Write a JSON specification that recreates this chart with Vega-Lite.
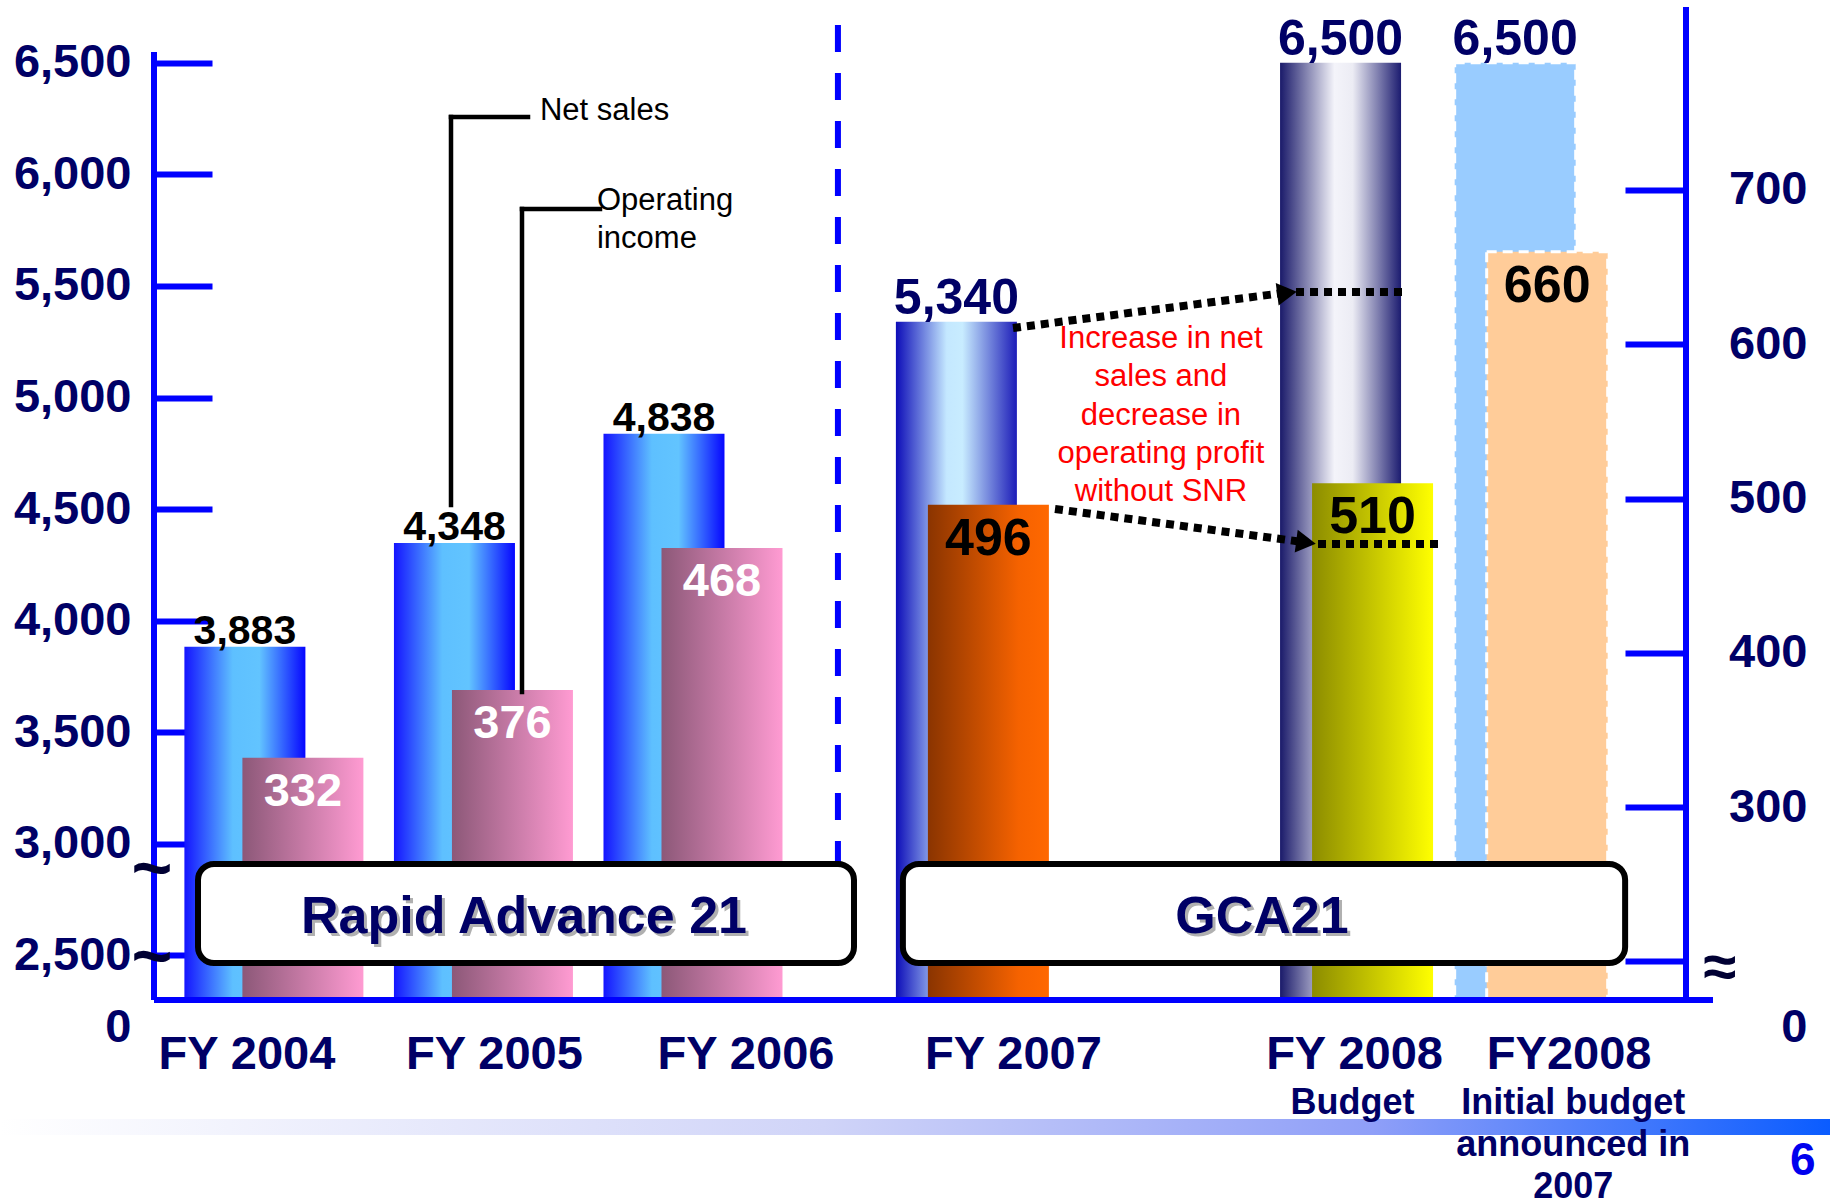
{
"$schema":"https://vega.github.io/schema/vega-lite/v6.json",
"width":1532,"height":1033,
"autosize":{"type":"none"},
"padding":{"left":154,"top":7,"right":144,"bottom":159},
"background":"white",
"config":{"view":{"stroke":null},"text":{"font":"Liberation Sans"},"axis":{"labelFont":"Liberation Sans"}},
"datasets":{"fin":[
{"period":"FY 2004","plan":"Rapid Advance 21","net_sales":3883,"operating_income":332,"note":""},
{"period":"FY 2005","plan":"Rapid Advance 21","net_sales":4348,"operating_income":376,"note":""},
{"period":"FY 2006","plan":"Rapid Advance 21","net_sales":4838,"operating_income":468,"note":""},
{"period":"FY 2007","plan":"GCA21","net_sales":5340,"operating_income":496,"note":""},
{"period":"FY 2008","plan":"GCA21","net_sales":6500,"operating_income":510,"note":"Budget"},
{"period":"FY2008","plan":"GCA21","net_sales":6500,"operating_income":660,"note":"Initial budget\nannounced in\n2007"}
]},
"resolve":{"scale":{"y":"independent"},"axis":{"y":"independent"}},
"layer":[
{"data":{"name":"fin"},"layer":[
 {"mark":{"type":"bar","width":121,"xOffset":{"expr":"datum.plan == 'GCA21' ? -16 : -29"},"strokeDash":[10,6],"strokeWidth":3},
  "encoding":{
   "x":{"field":"period","type":"nominal","scale":{"type":"band","domain":["g0","g1","FY 2004","g3","g4","g5","g6","g7","FY 2005","g9","g10","g11","g12","g13","FY 2006","g15","g16","g17","g18","g19","g20","g21","FY 2007","g23","g24","g25","g26","g27","g28","g29","g30","g31","g32","FY 2008","g34","g35","g36","g37","FY2008","g39","g40","g41"],"paddingInner":0,"paddingOuter":0.933},"axis":null},
   "y":{"field":"net_sales","type":"quantitative","scale":{"domain":[2120.7,6750],"zero":false,"nice":false},
    "axis":{"orient":"left","values":[2174.5,2500,3000,3500,4000,4500,5000,5500,6000,6500],"labelExpr":"datum.value < 2300 ? '0' : format(datum.value, ',')","domain":false,"grid":false,"title":null,"tickSize":-58,"tickWidth":6,"tickColor":{"condition":{"test":"datum.value < 2300","value":"rgba(0,0,0,0)"},"value":"#0000ff"},"labelPadding":81,"labelFontSize":47,"labelFontWeight":"bold","labelColor":"#000066","labelBaseline":"middle","labelAlign":"right","labelOverlap":false,"labelLimit":400}},
   "y2":{"datum":2300},
   "color":{"condition":[
     {"test":"datum.period == 'FY 2007'","value":{"gradient":"linear","x1":0,"y1":0,"x2":1,"y2":0,"stops":[{"offset":0,"color":"#0c0cb8"},{"offset":0.42,"color":"#c4e8ff"},{"offset":0.55,"color":"#c8ecff"},{"offset":1,"color":"#1c1cb8"}]}},
     {"test":"datum.period == 'FY 2008'","value":{"gradient":"linear","x1":0,"y1":0,"x2":1,"y2":0,"stops":[{"offset":0,"color":"#1a1a6a"},{"offset":0.45,"color":"#f4f4fa"},{"offset":0.6,"color":"#ececf4"},{"offset":1,"color":"#1c1c70"}]}},
     {"test":"datum.period == 'FY2008'","value":"#99ccff"}],
    "value":{"gradient":"linear","x1":0,"y1":0,"x2":1,"y2":0,"stops":[{"offset":0,"color":"#1414ff"},{"offset":0.4,"color":"#5ec0ff"},{"offset":0.62,"color":"#62c4ff"},{"offset":1,"color":"#0606ff"}]}},
   "stroke":{"condition":{"test":"datum.period == 'FY2008'","value":"white"},"value":null}
  }},
 {"mark":{"type":"text","baseline":"alphabetic","fontWeight":"bold","dx":{"expr":"datum.plan == 'GCA21' ? -16 : -29"},"dy":{"expr":"datum.plan == 'GCA21' ? -8 : -3"}},
  "encoding":{
   "x":{"field":"period","type":"nominal","scale":{"type":"band","domain":["g0","g1","FY 2004","g3","g4","g5","g6","g7","FY 2005","g9","g10","g11","g12","g13","FY 2006","g15","g16","g17","g18","g19","g20","g21","FY 2007","g23","g24","g25","g26","g27","g28","g29","g30","g31","g32","FY 2008","g34","g35","g36","g37","FY2008","g39","g40","g41"],"paddingInner":0,"paddingOuter":0.933}},
   "y":{"field":"net_sales","type":"quantitative","scale":{"domain":[2120.7,6750],"zero":false,"nice":false}},
   "text":{"field":"net_sales","type":"quantitative","format":","},
   "size":{"condition":{"test":"datum.plan == 'GCA21'","value":50},"value":41},
   "color":{"condition":{"test":"datum.plan == 'GCA21'","value":"#000066"},"value":"#000000"}
  }}
]},
{"data":{"name":"fin"},"layer":[
 {"mark":{"type":"bar","width":121,"xOffset":{"expr":"datum.plan == 'GCA21' ? 16 : 29"},"strokeDash":[10,6],"strokeWidth":3},
  "encoding":{
   "x":{"field":"period","type":"nominal","scale":{"type":"band","domain":["g0","g1","FY 2004","g3","g4","g5","g6","g7","FY 2005","g9","g10","g11","g12","g13","FY 2006","g15","g16","g17","g18","g19","g20","g21","FY 2007","g23","g24","g25","g26","g27","g28","g29","g30","g31","g32","FY 2008","g34","g35","g36","g37","FY2008","g39","g40","g41"],"paddingInner":0,"paddingOuter":0.933}},
   "y":{"field":"operating_income","type":"quantitative","scale":{"domain":[149.1,818.6],"zero":false,"nice":false},
    "axis":{"orient":"right","values":[156.9,200,300,400,500,600,700],"labelExpr":"datum.value < 175 ? '0' : (datum.value == 200 ? '' : format(datum.value, 'd'))","domain":false,"grid":false,"title":null,"tickSize":-61,"tickWidth":6,"tickColor":{"condition":{"test":"datum.value < 175","value":"rgba(0,0,0,0)"},"value":"#0000ff"},"labelPadding":182,"labelAlign":"right","labelFontSize":47,"labelFontWeight":"bold","labelColor":"#000066","labelBaseline":"middle","labelOverlap":false,"labelLimit":400}},
   "y2":{"datum":175},
   "color":{"condition":[
     {"test":"datum.period == 'FY 2007'","value":{"gradient":"linear","x1":0,"y1":0,"x2":1,"y2":0,"stops":[{"offset":0,"color":"#8a3400"},{"offset":0.75,"color":"#f56200"},{"offset":1,"color":"#ff6800"}]}},
     {"test":"datum.period == 'FY 2008'","value":{"gradient":"linear","x1":0,"y1":0,"x2":1,"y2":0,"stops":[{"offset":0,"color":"#8c8c00"},{"offset":1,"color":"#ffff00"}]}},
     {"test":"datum.period == 'FY2008'","value":"#ffcc99"}],
    "value":{"gradient":"linear","x1":0,"y1":0,"x2":1,"y2":0,"stops":[{"offset":0,"color":"#8c5878"},{"offset":1,"color":"#ff9bd2"}]}},
   "stroke":{"condition":{"test":"datum.period == 'FY2008'","value":"white"},"value":null}
  }},
 {"mark":{"type":"text","baseline":"middle","fontWeight":"bold","dx":{"expr":"datum.plan == 'GCA21' ? 16 : 29"},"dy":34},
  "encoding":{
   "x":{"field":"period","type":"nominal","scale":{"type":"band","domain":["g0","g1","FY 2004","g3","g4","g5","g6","g7","FY 2005","g9","g10","g11","g12","g13","FY 2006","g15","g16","g17","g18","g19","g20","g21","FY 2007","g23","g24","g25","g26","g27","g28","g29","g30","g31","g32","FY 2008","g34","g35","g36","g37","FY2008","g39","g40","g41"],"paddingInner":0,"paddingOuter":0.933}},
   "y":{"field":"operating_income","type":"quantitative","scale":{"domain":[149.1,818.6],"zero":false,"nice":false}},
   "text":{"field":"operating_income","type":"quantitative"},
   "size":{"condition":{"test":"datum.plan == 'GCA21'","value":52},"value":47},
   "color":{"condition":{"test":"datum.plan == 'GCA21'","value":"#000000"},"value":"#ffffff"}
  }}
]},
{"data":{"values":[{}]},"layer":[
 {"mark":{"type":"rect","fill":{"gradient":"linear","x1":0,"y1":0,"x2":1,"y2":0,"stops":[{"offset":0,"color":"#ffffff"},{"offset":0.45,"color":"#d0d4f8"},{"offset":0.75,"color":"#8f9ff8"},{"offset":1,"color":"#0a5cff"}]}},
  "encoding":{"x":{"datum":"g0","bandPosition":-5.34,"type":"nominal","scale":{"type":"band","domain":["g0","g1","FY 2004","g3","g4","g5","g6","g7","FY 2005","g9","g10","g11","g12","g13","FY 2006","g15","g16","g17","g18","g19","g20","g21","FY 2007","g23","g24","g25","g26","g27","g28","g29","g30","g31","g32","FY 2008","g34","g35","g36","g37","FY2008","g39","g40","g41"],"paddingInner":0,"paddingOuter":0.933}},
   "x2":{"datum":"g41","bandPosition":6.06},
   "y":{"datum":1766.6,"type":"quantitative","scale":{"domain":[2120.7,6750],"zero":false,"nice":false},"axis":null},
   "y2":{"datum":1694.9}}},
 {"mark":{"type":"rule","color":"#0000ff","strokeWidth":6},
  "encoding":{"x":{"datum":"g0","bandPosition":-0.933,"type":"nominal","scale":{"type":"band","domain":["g0","g1","FY 2004","g3","g4","g5","g6","g7","FY 2005","g9","g10","g11","g12","g13","FY 2006","g15","g16","g17","g18","g19","g20","g21","FY 2007","g23","g24","g25","g26","g27","g28","g29","g30","g31","g32","FY 2008","g34","g35","g36","g37","FY2008","g39","g40","g41"],"paddingInner":0,"paddingOuter":0.933}},
   "y":{"datum":6548.3,"type":"quantitative","scale":{"domain":[2120.7,6750],"zero":false,"nice":false},"axis":null},
   "y2":{"datum":2300}}},
 {"mark":{"type":"rule","color":"#0000ff","strokeWidth":6},
  "encoding":{"x":{"datum":"g41","bandPosition":1.933,"type":"nominal","scale":{"type":"band","domain":["g0","g1","FY 2004","g3","g4","g5","g6","g7","FY 2005","g9","g10","g11","g12","g13","FY 2006","g15","g16","g17","g18","g19","g20","g21","FY 2007","g23","g24","g25","g26","g27","g28","g29","g30","g31","g32","FY 2008","g34","g35","g36","g37","FY2008","g39","g40","g41"],"paddingInner":0,"paddingOuter":0.933}},
   "y":{"datum":6750,"type":"quantitative","scale":{"domain":[2120.7,6750],"zero":false,"nice":false},"axis":null},
   "y2":{"datum":2300}}},
 {"mark":{"type":"rule","color":"#0000ff","strokeWidth":6},
  "encoding":{"x":{"datum":"g0","bandPosition":-0.933,"type":"nominal","scale":{"type":"band","domain":["g0","g1","FY 2004","g3","g4","g5","g6","g7","FY 2005","g9","g10","g11","g12","g13","FY 2006","g15","g16","g17","g18","g19","g20","g21","FY 2007","g23","g24","g25","g26","g27","g28","g29","g30","g31","g32","FY 2008","g34","g35","g36","g37","FY2008","g39","g40","g41"],"paddingInner":0,"paddingOuter":0.933}},
   "x2":{"datum":"g41","bandPosition":2.706},
   "y":{"datum":2300,"type":"quantitative","scale":{"domain":[2120.7,6750],"zero":false,"nice":false},"axis":null}}},
 {"mark":{"type":"rule","color":"#0000ff","strokeWidth":6,"strokeDash":[27,21]},
  "encoding":{"x":{"datum":"g18","bandPosition":0.65,"type":"nominal","scale":{"type":"band","domain":["g0","g1","FY 2004","g3","g4","g5","g6","g7","FY 2005","g9","g10","g11","g12","g13","FY 2006","g15","g16","g17","g18","g19","g20","g21","FY 2007","g23","g24","g25","g26","g27","g28","g29","g30","g31","g32","FY 2008","g34","g35","g36","g37","FY2008","g39","g40","g41"],"paddingInner":0,"paddingOuter":0.933}},
   "y":{"datum":6669.3,"type":"quantitative","scale":{"domain":[2120.7,6750],"zero":false,"nice":false},"axis":null},
   "y2":{"datum":2371.6}}},
 {"mark":{"type":"rule","color":"#000000","strokeWidth":4.5,"strokeCap":"square"},
  "encoding":{"x":{"datum":"g7","bandPosition":0.571,"type":"nominal","scale":{"type":"band","domain":["g0","g1","FY 2004","g3","g4","g5","g6","g7","FY 2005","g9","g10","g11","g12","g13","FY 2006","g15","g16","g17","g18","g19","g20","g21","FY 2007","g23","g24","g25","g26","g27","g28","g29","g30","g31","g32","FY 2008","g34","g35","g36","g37","FY2008","g39","g40","g41"],"paddingInner":0,"paddingOuter":0.933}},
   "y":{"datum":4518.2,"type":"quantitative","scale":{"domain":[2120.7,6750],"zero":false,"nice":false},"axis":null},
   "y2":{"datum":6257}}},
 {"mark":{"type":"rule","color":"#000000","strokeWidth":4.5,"strokeCap":"square"},
  "encoding":{"x":{"datum":"g7","bandPosition":0.571,"type":"nominal","scale":{"type":"band","domain":["g0","g1","FY 2004","g3","g4","g5","g6","g7","FY 2005","g9","g10","g11","g12","g13","FY 2006","g15","g16","g17","g18","g19","g20","g21","FY 2007","g23","g24","g25","g26","g27","g28","g29","g30","g31","g32","FY 2008","g34","g35","g36","g37","FY2008","g39","g40","g41"],"paddingInner":0,"paddingOuter":0.933}},
   "x2":{"datum":"g9","bandPosition":0.776},
   "y":{"datum":6257,"type":"quantitative","scale":{"domain":[2120.7,6750],"zero":false,"nice":false},"axis":null}}},
 {"mark":{"type":"text","align":"left","baseline":"middle","fontSize":31,"color":"#000000"},
  "encoding":{"x":{"datum":"g10","bandPosition":0.119,"type":"nominal","scale":{"type":"band","domain":["g0","g1","FY 2004","g3","g4","g5","g6","g7","FY 2005","g9","g10","g11","g12","g13","FY 2006","g15","g16","g17","g18","g19","g20","g21","FY 2007","g23","g24","g25","g26","g27","g28","g29","g30","g31","g32","FY 2008","g34","g35","g36","g37","FY2008","g39","g40","g41"],"paddingInner":0,"paddingOuter":0.933}},
   "y":{"datum":6284,"type":"quantitative","scale":{"domain":[2120.7,6750],"zero":false,"nice":false},"axis":null},
   "text":{"value":"Net sales"}}},
 {"mark":{"type":"rule","color":"#000000","strokeWidth":4.5,"strokeCap":"square"},
  "encoding":{"x":{"datum":"g9","bandPosition":0.604,"type":"nominal","scale":{"type":"band","domain":["g0","g1","FY 2004","g3","g4","g5","g6","g7","FY 2005","g9","g10","g11","g12","g13","FY 2006","g15","g16","g17","g18","g19","g20","g21","FY 2007","g23","g24","g25","g26","g27","g28","g29","g30","g31","g32","FY 2008","g34","g35","g36","g37","FY2008","g39","g40","g41"],"paddingInner":0,"paddingOuter":0.933}},
   "y":{"datum":3680.2,"type":"quantitative","scale":{"domain":[2120.7,6750],"zero":false,"nice":false},"axis":null},
   "y2":{"datum":5844.7}}},
 {"mark":{"type":"rule","color":"#000000","strokeWidth":4.5,"strokeCap":"square"},
  "encoding":{"x":{"datum":"g9","bandPosition":0.604,"type":"nominal","scale":{"type":"band","domain":["g0","g1","FY 2004","g3","g4","g5","g6","g7","FY 2005","g9","g10","g11","g12","g13","FY 2006","g15","g16","g17","g18","g19","g20","g21","FY 2007","g23","g24","g25","g26","g27","g28","g29","g30","g31","g32","FY 2008","g34","g35","g36","g37","FY2008","g39","g40","g41"],"paddingInner":0,"paddingOuter":0.933}},
   "x2":{"datum":"g11","bandPosition":0.837},
   "y":{"datum":5844.7,"type":"quantitative","scale":{"domain":[2120.7,6750],"zero":false,"nice":false},"axis":null}}},
 {"mark":{"type":"text","align":"left","baseline":"middle","fontSize":31,"color":"#000000","lineBreak":"\n","lineHeight":38},
  "encoding":{"x":{"datum":"g11","bandPosition":0.751,"type":"nominal","scale":{"type":"band","domain":["g0","g1","FY 2004","g3","g4","g5","g6","g7","FY 2005","g9","g10","g11","g12","g13","FY 2006","g15","g16","g17","g18","g19","g20","g21","FY 2007","g23","g24","g25","g26","g27","g28","g29","g30","g31","g32","FY 2008","g34","g35","g36","g37","FY2008","g39","g40","g41"],"paddingInner":0,"paddingOuter":0.933}},
   "y":{"datum":5880.6,"type":"quantitative","scale":{"domain":[2120.7,6750],"zero":false,"nice":false},"axis":null},
   "text":{"value":"Operating\nincome"}}},
 {"mark":{"type":"text","align":"center","baseline":"middle","fontSize":31,"color":"#ff0000","lineBreak":"\n","lineHeight":38.3},
  "encoding":{"x":{"datum":"g27","bandPosition":0.9,"type":"nominal","scale":{"type":"band","domain":["g0","g1","FY 2004","g3","g4","g5","g6","g7","FY 2005","g9","g10","g11","g12","g13","FY 2006","g15","g16","g17","g18","g19","g20","g21","FY 2007","g23","g24","g25","g26","g27","g28","g29","g30","g31","g32","FY 2008","g34","g35","g36","g37","FY2008","g39","g40","g41"],"paddingInner":0,"paddingOuter":0.933}},
   "y":{"datum":5262.1,"type":"quantitative","scale":{"domain":[2120.7,6750],"zero":false,"nice":false},"axis":null},
   "text":{"value":"Increase in net\nsales and\ndecrease in\noperating profit\nwithout SNR"}}},
 {"mark":{"type":"rule","color":"#000000","strokeWidth":8,"strokeDash":[8,6]},
  "encoding":{"x":{"datum":"g23","bandPosition":0.663,"type":"nominal","scale":{"type":"band","domain":["g0","g1","FY 2004","g3","g4","g5","g6","g7","FY 2005","g9","g10","g11","g12","g13","FY 2006","g15","g16","g17","g18","g19","g20","g21","FY 2007","g23","g24","g25","g26","g27","g28","g29","g30","g31","g32","FY 2008","g34","g35","g36","g37","FY2008","g39","g40","g41"],"paddingInner":0,"paddingOuter":0.933}},
   "x2":{"datum":"g31","bandPosition":0.308},
   "y":{"datum":5311.4,"type":"quantitative","scale":{"domain":[2120.7,6750],"zero":false,"nice":false},"axis":null},
   "y2":{"datum":5466.5}}},
 {"mark":{"type":"rule","color":"#000000","strokeWidth":8,"strokeDash":[8,6]},
  "encoding":{"x":{"datum":"g31","bandPosition":0.766,"type":"nominal","scale":{"type":"band","domain":["g0","g1","FY 2004","g3","g4","g5","g6","g7","FY 2005","g9","g10","g11","g12","g13","FY 2006","g15","g16","g17","g18","g19","g20","g21","FY 2007","g23","g24","g25","g26","g27","g28","g29","g30","g31","g32","FY 2008","g34","g35","g36","g37","FY2008","g39","g40","g41"],"paddingInner":0,"paddingOuter":0.933}},
   "x2":{"datum":"g34","bandPosition":0.94},
   "y":{"datum":5472.8,"type":"quantitative","scale":{"domain":[2120.7,6750],"zero":false,"nice":false},"axis":null}}},
 {"mark":{"type":"point","shape":"triangle-right","filled":true,"color":"#000000","opacity":1,"size":520,"angle":-7.4},
  "encoding":{"x":{"datum":"g31","bandPosition":0.508,"type":"nominal","scale":{"type":"band","domain":["g0","g1","FY 2004","g3","g4","g5","g6","g7","FY 2005","g9","g10","g11","g12","g13","FY 2006","g15","g16","g17","g18","g19","g20","g21","FY 2007","g23","g24","g25","g26","g27","g28","g29","g30","g31","g32","FY 2008","g34","g35","g36","g37","FY2008","g39","g40","g41"],"paddingInner":0,"paddingOuter":0.933}},
   "y":{"datum":5468.2,"type":"quantitative","scale":{"domain":[2120.7,6750],"zero":false,"nice":false},"axis":null}}},
 {"mark":{"type":"rule","color":"#000000","strokeWidth":8,"strokeDash":[8,6]},
  "encoding":{"x":{"datum":"g24","bandPosition":0.865,"type":"nominal","scale":{"type":"band","domain":["g0","g1","FY 2004","g3","g4","g5","g6","g7","FY 2005","g9","g10","g11","g12","g13","FY 2006","g15","g16","g17","g18","g19","g20","g21","FY 2007","g23","g24","g25","g26","g27","g28","g29","g30","g31","g32","FY 2008","g34","g35","g36","g37","FY2008","g39","g40","g41"],"paddingInner":0,"paddingOuter":0.933}},
   "x2":{"datum":"g31","bandPosition":0.88},
   "y":{"datum":4500.3,"type":"quantitative","scale":{"domain":[2120.7,6750],"zero":false,"nice":false},"axis":null},
   "y2":{"datum":4354.2}}},
 {"mark":{"type":"rule","color":"#000000","strokeWidth":8,"strokeDash":[8,6]},
  "encoding":{"x":{"datum":"g32","bandPosition":0.396,"type":"nominal","scale":{"type":"band","domain":["g0","g1","FY 2004","g3","g4","g5","g6","g7","FY 2005","g9","g10","g11","g12","g13","FY 2006","g15","g16","g17","g18","g19","g20","g21","FY 2007","g23","g24","g25","g26","g27","g28","g29","g30","g31","g32","FY 2008","g34","g35","g36","g37","FY2008","g39","g40","g41"],"paddingInner":0,"paddingOuter":0.933}},
   "x2":{"datum":"g36","bandPosition":0.003},
   "y":{"datum":4343.4,"type":"quantitative","scale":{"domain":[2120.7,6750],"zero":false,"nice":false},"axis":null}}},
 {"mark":{"type":"point","shape":"triangle-right","filled":true,"color":"#000000","opacity":1,"size":520,"angle":7.6},
  "encoding":{"x":{"datum":"g32","bandPosition":0.052,"type":"nominal","scale":{"type":"band","domain":["g0","g1","FY 2004","g3","g4","g5","g6","g7","FY 2005","g9","g10","g11","g12","g13","FY 2006","g15","g16","g17","g18","g19","g20","g21","FY 2007","g23","g24","g25","g26","g27","g28","g29","g30","g31","g32","FY 2008","g34","g35","g36","g37","FY2008","g39","g40","g41"],"paddingInner":0,"paddingOuter":0.933}},
   "y":{"datum":4350.6,"type":"quantitative","scale":{"domain":[2120.7,6750],"zero":false,"nice":false},"axis":null}}},
 {"mark":{"type":"rect","fill":"#ffffff","stroke":"#000000","strokeWidth":6,"cornerRadius":16},
  "encoding":{"x":{"datum":"g0","bandPosition":0.327,"type":"nominal","scale":{"type":"band","domain":["g0","g1","FY 2004","g3","g4","g5","g6","g7","FY 2005","g9","g10","g11","g12","g13","FY 2006","g15","g16","g17","g18","g19","g20","g21","FY 2007","g23","g24","g25","g26","g27","g28","g29","g30","g31","g32","FY 2008","g34","g35","g36","g37","FY2008","g39","g40","g41"],"paddingInner":0,"paddingOuter":0.933}},
   "x2":{"datum":"g19","bandPosition":0.11},
   "y":{"datum":2909.4,"type":"quantitative","scale":{"domain":[2120.7,6750],"zero":false,"nice":false},"axis":null},
   "y2":{"datum":2465.7}}},
 {"mark":{"type":"rect","fill":"#ffffff","stroke":"#000000","strokeWidth":6,"cornerRadius":16},
  "encoding":{"x":{"datum":"g20","bandPosition":0.51,"type":"nominal","scale":{"type":"band","domain":["g0","g1","FY 2004","g3","g4","g5","g6","g7","FY 2005","g9","g10","g11","g12","g13","FY 2006","g15","g16","g17","g18","g19","g20","g21","FY 2007","g23","g24","g25","g26","g27","g28","g29","g30","g31","g32","FY 2008","g34","g35","g36","g37","FY2008","g39","g40","g41"],"paddingInner":0,"paddingOuter":0.933}},
   "x2":{"datum":"g41","bandPosition":0.19},
   "y":{"datum":2909.4,"type":"quantitative","scale":{"domain":[2120.7,6750],"zero":false,"nice":false},"axis":null},
   "y2":{"datum":2465.7}}},
 {"mark":{"type":"text","align":"center","baseline":"middle","fontSize":52,"fontWeight":"bold","color":"#b0b0b0","dx":3,"dy":3},
  "encoding":{"x":{"datum":"g9","bandPosition":0.66,"type":"nominal","scale":{"type":"band","domain":["g0","g1","FY 2004","g3","g4","g5","g6","g7","FY 2005","g9","g10","g11","g12","g13","FY 2006","g15","g16","g17","g18","g19","g20","g21","FY 2007","g23","g24","g25","g26","g27","g28","g29","g30","g31","g32","FY 2008","g34","g35","g36","g37","FY2008","g39","g40","g41"],"paddingInner":0,"paddingOuter":0.933}},
   "y":{"datum":2671.9,"type":"quantitative","scale":{"domain":[2120.7,6750],"zero":false,"nice":false},"axis":null},
   "text":{"value":"Rapid Advance 21"}}},
 {"mark":{"type":"text","align":"center","baseline":"middle","fontSize":52,"fontWeight":"bold","color":"#000066"},
  "encoding":{"x":{"datum":"g9","bandPosition":0.66,"type":"nominal","scale":{"type":"band","domain":["g0","g1","FY 2004","g3","g4","g5","g6","g7","FY 2005","g9","g10","g11","g12","g13","FY 2006","g15","g16","g17","g18","g19","g20","g21","FY 2007","g23","g24","g25","g26","g27","g28","g29","g30","g31","g32","FY 2008","g34","g35","g36","g37","FY2008","g39","g40","g41"],"paddingInner":0,"paddingOuter":0.933}},
   "y":{"datum":2671.9,"type":"quantitative","scale":{"domain":[2120.7,6750],"zero":false,"nice":false},"axis":null},
   "text":{"value":"Rapid Advance 21"}}},
 {"mark":{"type":"text","align":"center","baseline":"middle","fontSize":52,"fontWeight":"bold","color":"#b0b0b0","dx":3,"dy":3},
  "encoding":{"x":{"datum":"g30","bandPosition":0.79,"type":"nominal","scale":{"type":"band","domain":["g0","g1","FY 2004","g3","g4","g5","g6","g7","FY 2005","g9","g10","g11","g12","g13","FY 2006","g15","g16","g17","g18","g19","g20","g21","FY 2007","g23","g24","g25","g26","g27","g28","g29","g30","g31","g32","FY 2008","g34","g35","g36","g37","FY2008","g39","g40","g41"],"paddingInner":0,"paddingOuter":0.933}},
   "y":{"datum":2671.9,"type":"quantitative","scale":{"domain":[2120.7,6750],"zero":false,"nice":false},"axis":null},
   "text":{"value":"GCA21"}}},
 {"mark":{"type":"text","align":"center","baseline":"middle","fontSize":52,"fontWeight":"bold","color":"#000066"},
  "encoding":{"x":{"datum":"g30","bandPosition":0.79,"type":"nominal","scale":{"type":"band","domain":["g0","g1","FY 2004","g3","g4","g5","g6","g7","FY 2005","g9","g10","g11","g12","g13","FY 2006","g15","g16","g17","g18","g19","g20","g21","FY 2007","g23","g24","g25","g26","g27","g28","g29","g30","g31","g32","FY 2008","g34","g35","g36","g37","FY2008","g39","g40","g41"],"paddingInner":0,"paddingOuter":0.933}},
   "y":{"datum":2671.9,"type":"quantitative","scale":{"domain":[2120.7,6750],"zero":false,"nice":false},"axis":null},
   "text":{"value":"GCA21"}}},
 {"mark":{"type":"text","align":"center","baseline":"middle","fontSize":60,"fontWeight":"bold","color":"#000033"},
  "encoding":{"x":{"datum":"g41","bandPosition":2.905,"type":"nominal","scale":{"type":"band","domain":["g0","g1","FY 2004","g3","g4","g5","g6","g7","FY 2005","g9","g10","g11","g12","g13","FY 2006","g15","g16","g17","g18","g19","g20","g21","FY 2007","g23","g24","g25","g26","g27","g28","g29","g30","g31","g32","FY 2008","g34","g35","g36","g37","FY2008","g39","g40","g41"],"paddingInner":0,"paddingOuter":0.933}},
   "y":{"datum":2438.8,"type":"quantitative","scale":{"domain":[2120.7,6750],"zero":false,"nice":false},"axis":null},
   "text":{"value":"≈"}}},
 {"mark":{"type":"text","align":"center","baseline":"middle","fontSize":70,"fontWeight":"bold","color":"#000033"},
  "encoding":{"x":{"datum":"g0","bandPosition":-0.99,"type":"nominal","scale":{"type":"band","domain":["g0","g1","FY 2004","g3","g4","g5","g6","g7","FY 2005","g9","g10","g11","g12","g13","FY 2006","g15","g16","g17","g18","g19","g20","g21","FY 2007","g23","g24","g25","g26","g27","g28","g29","g30","g31","g32","FY 2008","g34","g35","g36","g37","FY2008","g39","g40","g41"],"paddingInner":0,"paddingOuter":0.933}},
   "y":{"datum":2878,"type":"quantitative","scale":{"domain":[2120.7,6750],"zero":false,"nice":false},"axis":null},
   "text":{"value":"~"}}},
 {"mark":{"type":"text","align":"center","baseline":"middle","fontSize":70,"fontWeight":"bold","color":"#000033"},
  "encoding":{"x":{"datum":"g0","bandPosition":-0.99,"type":"nominal","scale":{"type":"band","domain":["g0","g1","FY 2004","g3","g4","g5","g6","g7","FY 2005","g9","g10","g11","g12","g13","FY 2006","g15","g16","g17","g18","g19","g20","g21","FY 2007","g23","g24","g25","g26","g27","g28","g29","g30","g31","g32","FY 2008","g34","g35","g36","g37","FY2008","g39","g40","g41"],"paddingInner":0,"paddingOuter":0.933}},
   "y":{"datum":2483.6,"type":"quantitative","scale":{"domain":[2120.7,6750],"zero":false,"nice":false},"axis":null},
   "text":{"value":"~"}}},
 {"mark":{"type":"text","align":"center","baseline":"middle","fontSize":46,"fontWeight":"bold","color":"#0000ee"},
  "encoding":{"x":{"datum":"g41","bandPosition":5.28,"type":"nominal","scale":{"type":"band","domain":["g0","g1","FY 2004","g3","g4","g5","g6","g7","FY 2005","g9","g10","g11","g12","g13","FY 2006","g15","g16","g17","g18","g19","g20","g21","FY 2007","g23","g24","g25","g26","g27","g28","g29","g30","g31","g32","FY 2008","g34","g35","g36","g37","FY2008","g39","g40","g41"],"paddingInner":0,"paddingOuter":0.933}},
   "y":{"datum":1578.4,"type":"quantitative","scale":{"domain":[2120.7,6750],"zero":false,"nice":false},"axis":null},
   "text":{"value":"6"}}},
 {"data":{"name":"fin"},
  "mark":{"type":"text","align":"center","baseline":"middle","fontSize":47,"fontWeight":"bold","color":"#000066","dx":{"expr":"datum.period == 'FY 2004' ? -27 : datum.period == 'FY 2005' ? 11 : datum.period == 'FY 2006' ? 53 : datum.period == 'FY 2007' ? 41 : datum.period == 'FY2008' ? 38 : -2"}},
  "encoding":{"x":{"field":"period","type":"nominal","scale":{"type":"band","domain":["g0","g1","FY 2004","g3","g4","g5","g6","g7","FY 2005","g9","g10","g11","g12","g13","FY 2006","g15","g16","g17","g18","g19","g20","g21","FY 2007","g23","g24","g25","g26","g27","g28","g29","g30","g31","g32","FY 2008","g34","g35","g36","g37","FY2008","g39","g40","g41"],"paddingInner":0,"paddingOuter":0.933}},
   "y":{"datum":2053.4,"type":"quantitative","scale":{"domain":[2120.7,6750],"zero":false,"nice":false},"axis":null},
   "text":{"field":"period"}}},
 {"data":{"name":"fin"},
  "mark":{"type":"text","align":"center","baseline":"top","fontSize":36,"fontWeight":"bold","color":"#000066","lineBreak":"\n","lineHeight":42,"dx":{"expr":"datum.period == 'FY2008' ? 42 : -4"}},
  "encoding":{"x":{"field":"period","type":"nominal","scale":{"type":"band","domain":["g0","g1","FY 2004","g3","g4","g5","g6","g7","FY 2005","g9","g10","g11","g12","g13","FY 2006","g15","g16","g17","g18","g19","g20","g21","FY 2007","g23","g24","g25","g26","g27","g28","g29","g30","g31","g32","FY 2008","g34","g35","g36","g37","FY2008","g39","g40","g41"],"paddingInner":0,"paddingOuter":0.933}},
   "y":{"datum":1914.5,"type":"quantitative","scale":{"domain":[2120.7,6750],"zero":false,"nice":false},"axis":null},
   "text":{"field":"note"}}}
]}
]
}
